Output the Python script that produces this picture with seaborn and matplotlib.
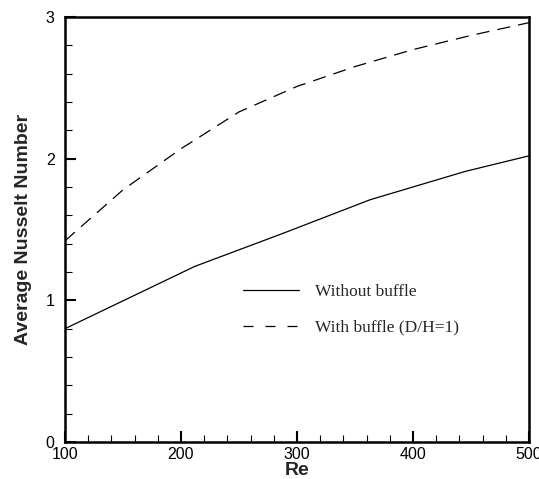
import matplotlib
matplotlib.use("Agg")
import matplotlib.pyplot as plt
import seaborn as sns
import pandas as pd
from matplotlib.ticker import MultipleLocator

re_without = [100, 212, 287, 363, 445, 500]
nu_without = [0.80, 1.24, 1.47, 1.71, 1.91, 2.02]
re_with = [100, 150, 200, 250, 300, 350, 400, 450, 500]
nu_with = [1.42, 1.78, 2.07, 2.33, 2.51, 2.65, 2.77, 2.87, 2.96]
label_without = "Without buffle"
label_with = "With buffle (D/H=1)"

sns.set_style("ticks")
plt.rcParams['font.family'] = ['Liberation Sans', 'DejaVu Sans']

fig = plt.figure(figsize=(5.39, 4.79), dpi=100)
ax = fig.add_axes([65/539, 37/479, 464/539, 425/479])

df1 = pd.DataFrame({"Re": re_without, "Nu": nu_without})
df2 = pd.DataFrame({"Re": re_with, "Nu": nu_with})
sns.lineplot(data=df1, x="Re", y="Nu", ax=ax, color="black", linewidth=0.9, label=label_without)
sns.lineplot(data=df2, x="Re", y="Nu", ax=ax, color="black", linewidth=0.9, label=label_with,
             dashes=False)
ax.lines[1].set_dashes((10.5, 6.5))

ax.set_xlim(100, 500)
ax.set_ylim(0, 3)
ax.xaxis.set_major_locator(MultipleLocator(100))
ax.xaxis.set_minor_locator(MultipleLocator(20))
ax.yaxis.set_major_locator(MultipleLocator(1))
ax.yaxis.set_minor_locator(MultipleLocator(0.2))
ax.tick_params(which='both', direction='in', top=False, right=False, labelsize=11.5, colors='black')
ax.tick_params(which='major', length=8, width=1.5)
ax.tick_params(which='minor', length=5, width=0.8)
ax.tick_params(axis='x', which='major', pad=3.5)
ax.tick_params(axis='y', which='major', pad=7.5)
for s in ax.spines.values():
    s.set_linewidth(1.8)
    s.set_color('black')

ax.set_xlabel("Re", fontsize=14, fontweight='bold', labelpad=0)
ax.set_ylabel("Average Nusselt Number", fontsize=14, fontweight='bold', labelpad=10)

leg = ax.legend(loc='upper left', bbox_to_anchor=(0.384, 0.373), frameon=False,
                prop={'family': 'Liberation Serif', 'size': 12.5},
                handlelength=3.2, handletextpad=0.95, labelspacing=1.15,
                borderpad=0, borderaxespad=0)
leg.get_lines()[1].set_dashes((8, 9.6))

fig.savefig("out.png", dpi=100)
